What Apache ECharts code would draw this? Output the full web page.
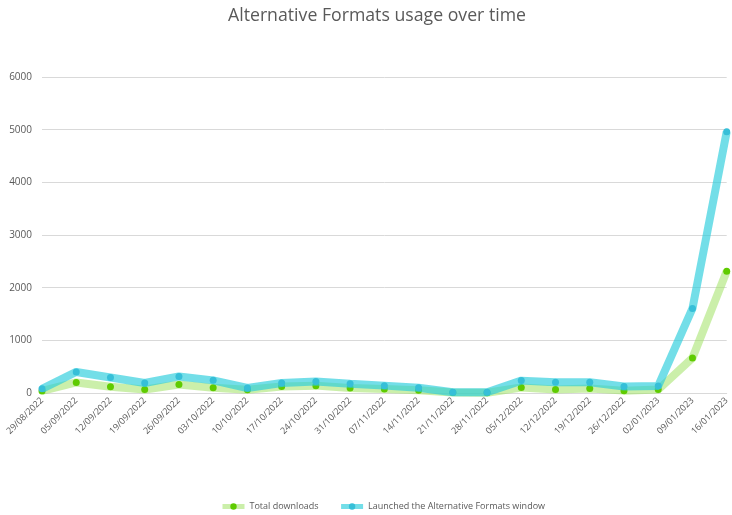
<!DOCTYPE html>
<html>
<head>
<meta charset="utf-8">
<script src="https://cdn.jsdelivr.net/npm/echarts@6/dist/echarts.min.js"></script>
<style>
  html, body { margin: 0; padding: 0; background: #fff; }
  #chart { width: 732px; height: 515px; }
</style>
</head>
<body>
<div id="chart"></div>
<script>
// Weekly buckets (week starting)
const weeks = [
  '29/08/2022', '05/09/2022', '12/09/2022', '19/09/2022', '26/09/2022',
  '03/10/2022', '10/10/2022', '17/10/2022', '24/10/2022', '31/10/2022',
  '07/11/2022', '14/11/2022', '21/11/2022', '28/11/2022', '05/12/2022',
  '12/12/2022', '19/12/2022', '26/12/2022', '02/01/2023', '09/01/2023',
  '16/01/2023'
];

const totalDownloads = [
  40, 200, 120, 65, 160, 100, 60, 125, 140, 95,
  75, 50, 10, 5, 105, 65, 85, 45, 65, 665, 2310
];

const launchedWindow = [
  80, 400, 295, 190, 315, 240, 95, 190, 220, 175,
  140, 100, 15, 15, 235, 205, 205, 125, 135, 1605, 4960
];

const yTicks = { min: 0, max: 6000, interval: 1000 };

const chart = echarts.init(document.getElementById('chart'));
const font = '"Open Sans", "Noto Sans", sans-serif';

chart.setOption({
  animation: false,
  backgroundColor: '#ffffff',
  title: {
    text: 'Alternative Formats usage over time',
    left: 228,
    top: 7,
    padding: 0,
    textStyle: { fontFamily: font, fontSize: 17.7, fontWeight: 'normal', color: '#595959' }
  },
  legend: {
    bottom: 4,
    left: 220,
    padding: 0,
    itemGap: 20,
    itemWidth: 22,
    itemHeight: 8,
    lineStyle: { width: 5 },
    textStyle: { fontFamily: font, fontSize: 9, color: '#595959' },
    data: ['Total downloads', 'Launched the Alternative Formats window']
  },
  grid: { left: 42, right: 5, top: 77, bottom: 122, containLabel: false },
  xAxis: {
    type: 'category',
    data: weeks,
    boundaryGap: false,
    axisLine: { show: true, lineStyle: { color: '#d9d9d9', width: 1 } },
    axisTick: { show: false },
    axisLabel: {
      rotate: 45,
      interval: 0,
      margin: 6,
      fontFamily: font,
      fontSize: 9,
      color: '#595959'
    }
  },
  yAxis: {
    type: 'value',
    min: yTicks.min,
    max: yTicks.max,
    interval: yTicks.interval,
    axisLine: { show: false },
    axisTick: { show: false },
    splitLine: { lineStyle: { color: '#d9d9d9', width: 1 } },
    axisLabel: {
      fontFamily: font,
      fontSize: 10,
      color: '#595959',
      margin: 10,
      formatter: (v) => String(v)
    }
  },
  series: [
    {
      name: 'Total downloads',
      type: 'line',
      data: totalDownloads,
      symbol: 'circle',
      symbolSize: 7,
      lineStyle: { width: 8, color: 'rgba(160, 225, 100, 0.55)' },
      itemStyle: { color: '#5fcb00' },
      z: 2
    },
    {
      name: 'Launched the Alternative Formats window',
      type: 'line',
      data: launchedWindow,
      symbol: 'circle',
      symbolSize: 7,
      lineStyle: { width: 8, color: 'rgba(40, 205, 220, 0.65)' },
      itemStyle: { color: '#36bfd8' },
      z: 3
    }
  ]
});
</script>
</body>
</html>
